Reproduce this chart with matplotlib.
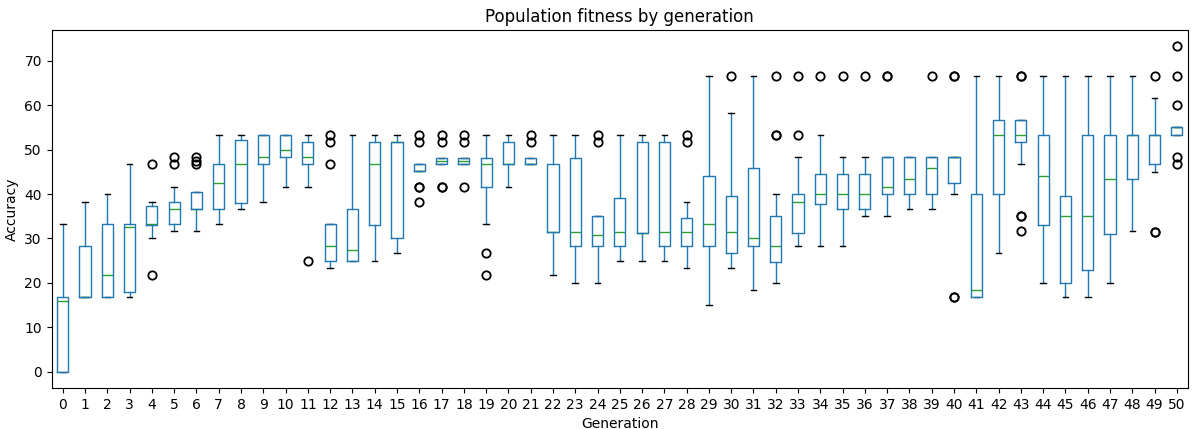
import numpy as np
import matplotlib
matplotlib.use("Agg")
import matplotlib.pyplot as plt

# box statistics per generation
generations = list(range(51))
whislo = [0, 16.7, 16.7, 16.7, 30, 31.7, 31.7, 33.3, 36.7, 38.3,
          41.7, 41.7, 23.3, 25, 25, 26.7, 45.2, 46.7, 46.7, 33.3,
          41.7, 46.7, 21.7, 20, 20, 25, 25, 25, 23.3, 15,
          23.3, 18.3, 20, 28.3, 28.3, 28.3, 35, 35, 36.7, 36.7,
          40, 16.7, 26.7, 46.7, 20, 16.7, 16.7, 20, 31.7, 45, 53.3]
q1 = [0, 16.7, 16.7, 17.9, 33.1, 33.3, 36.7, 36.7, 37.9, 46.7,
      48.3, 46.7, 25, 25, 33.1, 30, 45.2, 46.7, 46.7, 41.7,
      46.7, 46.7, 31.5, 28.3, 28.3, 28.3, 31.3, 28.3, 28.3, 28.3,
      26.7, 28.3, 24.6, 31.3, 37.7, 36.7, 36.7, 40, 40, 40,
      42.4, 16.7, 40, 51.7, 33.1, 20, 22.8, 31, 43.4, 46.7, 53.3]
med = [15.8, 16.7, 21.7, 32.5, 33.3, 36.7, 36.7, 42.5, 46.7, 48.3,
       50, 48.3, 28.3, 27.5, 46.7, 51.7, 45.2, 47.5, 47.5, 46.7,
       46.7, 46.7, 31.5, 31.5, 30.8, 31.5, 31.3, 31.5, 31.5, 33.3,
       31.5, 30, 28.3, 38.3, 40, 40, 40, 41.7, 43.4, 45.8,
       48.3, 18.3, 53.3, 53.3, 44.1, 35, 35, 43.5, 53.3, 53.3, 55]
q3 = [16.7, 28.3, 33.3, 33.3, 37.3, 38.3, 40.5, 46.7, 52.1, 53.3,
      53.3, 51.7, 33.3, 36.7, 51.7, 51.7, 46.7, 48.1, 48.1, 48.1,
      51.7, 48.1, 46.7, 48.1, 35, 39.2, 51.7, 51.7, 34.5, 44,
      39.6, 45.8, 35, 40, 44.6, 44.6, 44.6, 48.3, 48.3, 48.3,
      48.3, 40, 56.7, 56.7, 53.3, 39.6, 53.3, 53.3, 53.3, 53.3, 55]
whishi = [33.3, 38.3, 40, 46.7, 38.3, 41.7, 40.5, 53.3, 53.3, 53.3,
          53.3, 53.3, 33.3, 53.3, 53.3, 53.3, 46.7, 48.1, 48.1, 53.3,
          53.3, 48.1, 53.3, 53.3, 35, 53.3, 53.3, 53.3, 38.3, 66.7,
          58.3, 66.7, 40, 48.3, 53.3, 48.3, 48.3, 48.3, 48.3, 48.3,
          48.3, 66.7, 66.7, 56.7, 66.7, 66.7, 66.7, 66.7, 66.7, 61.7, 55]
fliers = [[], [], [], [], [46.7, 21.7], [48.3, 46.7], [48.3, 47.5, 46.7],
          [], [], [], [], [25], [53.3, 51.7, 46.7], [], [], [],
          [53.3, 51.7, 41.7, 41.7, 38.3], [53.3, 51.7, 41.7, 41.7],
          [53.3, 51.7, 41.7], [26.7, 21.7], [], [53.3, 51.7], [], [],
          [53.3, 51.7], [], [], [], [53.3, 51.7], [],
          [66.7], [], [66.7, 53.3, 53.3], [66.7, 53.3], [66.7], [66.7],
          [66.7], [66.7, 66.7], [], [66.7],
          [66.7, 66.7, 16.7, 16.7], [], [], [66.7, 66.7, 35, 35, 31.7],
          [], [], [], [], [], [66.7, 31.5, 31.5],
          [73.3, 66.7, 60, 48.3, 46.7]]

stats = []
for i, g in enumerate(generations):
    stats.append({'label': str(g), 'whislo': whislo[i], 'q1': q1[i],
                  'med': med[i], 'q3': q3[i], 'whishi': whishi[i],
                  'fliers': fliers[i]})

fig = plt.figure(figsize=(12, 4.29), dpi=100)
ax = fig.add_axes([0.043, 0.096, 0.947, 0.834])

# medians sit under the box outline, as in the original
ax.bxp(stats, widths=0.5,
       boxprops=dict(color='#1f77b4', zorder=2.2),
       whiskerprops=dict(color='#1f77b4'),
       medianprops=dict(color='#2ca02c', zorder=2.1),
       capprops=dict(color='black'),
       flierprops=dict(marker='o', markerfacecolor='none',
                       markeredgecolor='black', markeredgewidth=1.3))

ax.set_title('Population fitness by generation')
ax.set_xlabel('Generation')
ax.set_ylabel('Accuracy')
ax.set_yticks([0, 10, 20, 30, 40, 50, 60, 70])

fig.savefig('out.png', dpi=100)
